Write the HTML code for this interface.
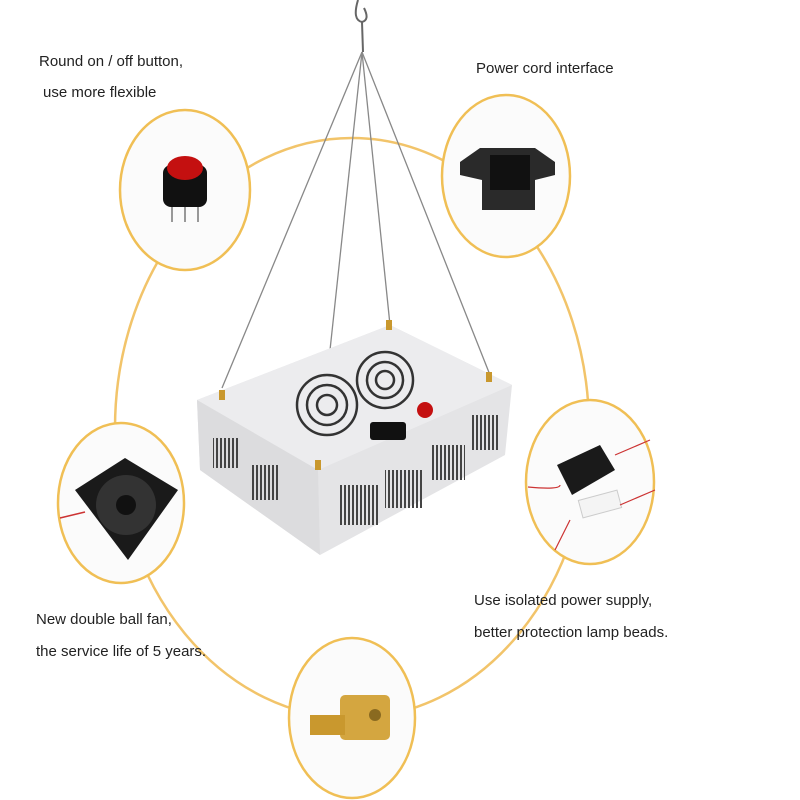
<!DOCTYPE html>
<html><head><style>
body{margin:0;background:#fff;}
svg{display:block}
text{font-family:"Liberation Sans",sans-serif;font-size:15px;fill:#222}
</style></head><body>
<svg width="800" height="800" viewBox="0 0 800 800">
<defs>
<pattern id="v" width="4" height="10" patternUnits="userSpaceOnUse"><rect width="2" height="10" fill="#444"/></pattern>
</defs>
<ellipse cx="352" cy="428" rx="237" ry="290" fill="none" stroke="#f2c46a" stroke-width="2.5"/>
<g fill="#fbfbfb" stroke="#f0bf55" stroke-width="2.5">
<ellipse cx="185" cy="190" rx="65" ry="80"/>
<ellipse cx="506" cy="176" rx="64" ry="81"/>
<ellipse cx="121" cy="503" rx="63" ry="80"/>
<ellipse cx="590" cy="482" rx="64" ry="82"/>
<ellipse cx="352" cy="718" rx="63" ry="80"/>
</g>
<rect x="163" y="165" width="44" height="42" rx="8" fill="#111"/>
<ellipse cx="185" cy="168" rx="18" ry="12" fill="#c41010"/>
<g stroke="#999" stroke-width="2"><line x1="172" y1="207" x2="172" y2="222"/><line x1="185" y1="207" x2="185" y2="222"/><line x1="198" y1="207" x2="198" y2="222"/></g>
<path d="M460 162 L480 148 L535 148 L555 162 L555 175 L535 180 L535 210 L482 210 L482 180 L460 175Z" fill="#2a2a2a"/>
<rect x="490" y="155" width="40" height="35" fill="#111"/>
<polygon points="75,490 125,458 178,490 128,560" fill="#1a1a1a"/>
<circle cx="126" cy="505" r="30" fill="#333"/><circle cx="126" cy="505" r="10" fill="#111"/>
<line x1="60" y1="518" x2="85" y2="512" stroke="#c33" stroke-width="1.5"/>
<polygon points="557,465 600,445 615,470 572,495" fill="#1a1a1a"/>
<rect x="580" y="495" width="40" height="18" fill="#f4f4f4" stroke="#ccc" transform="rotate(-15 600 504)"/>
<path d="M528 487 Q560 490 560 485 M615 455 L650 440 M620 505 L655 490 M570 520 L555 550" stroke="#c33" stroke-width="1.2" fill="none"/>
<rect x="340" y="695" width="50" height="45" rx="5" fill="#d4a640"/>
<circle cx="375" cy="715" r="6" fill="#8a6a20"/>
<rect x="310" y="715" width="35" height="20" fill="#c9982e"/>
<path d="M358 0 Q352 20 362 22 Q370 20 364 8 M362 22 L363 52" stroke="#666" stroke-width="2" fill="none"/>
<g stroke="#888" stroke-width="1.3">
<line x1="362" y1="52" x2="222" y2="388"/>
<line x1="362" y1="52" x2="318" y2="462"/>
<line x1="362" y1="52" x2="390" y2="325"/>
<line x1="362" y1="52" x2="490" y2="375"/>
</g>
<polygon points="197,400 390,325 512,385 505,455 320,555 200,470" fill="#e4e4e6"/>
<polygon points="197,400 390,325 512,385 318,470" fill="#ececee"/>
<polygon points="197,400 318,470 320,555 200,470" fill="#dcdcde"/>
<g fill="url(#v)">
<rect x="213" y="438" width="26" height="30"/><rect x="251" y="465" width="28" height="35"/>
<rect x="338" y="485" width="40" height="40"/><rect x="385" y="470" width="38" height="38"/>
<rect x="430" y="445" width="35" height="35"/><rect x="470" y="415" width="28" height="35"/>
</g>
<g fill="none" stroke="#333" stroke-width="2.5">
<circle cx="327" cy="405" r="30"/><circle cx="327" cy="405" r="20"/><circle cx="327" cy="405" r="10"/>
<circle cx="385" cy="380" r="28"/><circle cx="385" cy="380" r="18"/><circle cx="385" cy="380" r="9"/>
</g>
<rect x="370" y="422" width="36" height="18" rx="3" fill="#111"/>
<circle cx="425" cy="410" r="8" fill="#c41010"/>
<g fill="#c9982e"><rect x="219" y="390" width="6" height="10"/><rect x="386" y="320" width="6" height="10"/><rect x="486" y="372" width="6" height="10"/><rect x="315" y="460" width="6" height="10"/></g>
<text x="39" y="66">Round on / off button,</text>
<text x="43" y="97">use more flexible</text>
<text x="476" y="73">Power cord interface</text>
<text x="36" y="624">New double ball fan,</text>
<text x="36" y="656">the service life of 5 years.</text>
<text x="474" y="605">Use isolated power supply,</text>
<text x="474" y="637">better protection lamp beads.</text>
</svg>
</body></html>
